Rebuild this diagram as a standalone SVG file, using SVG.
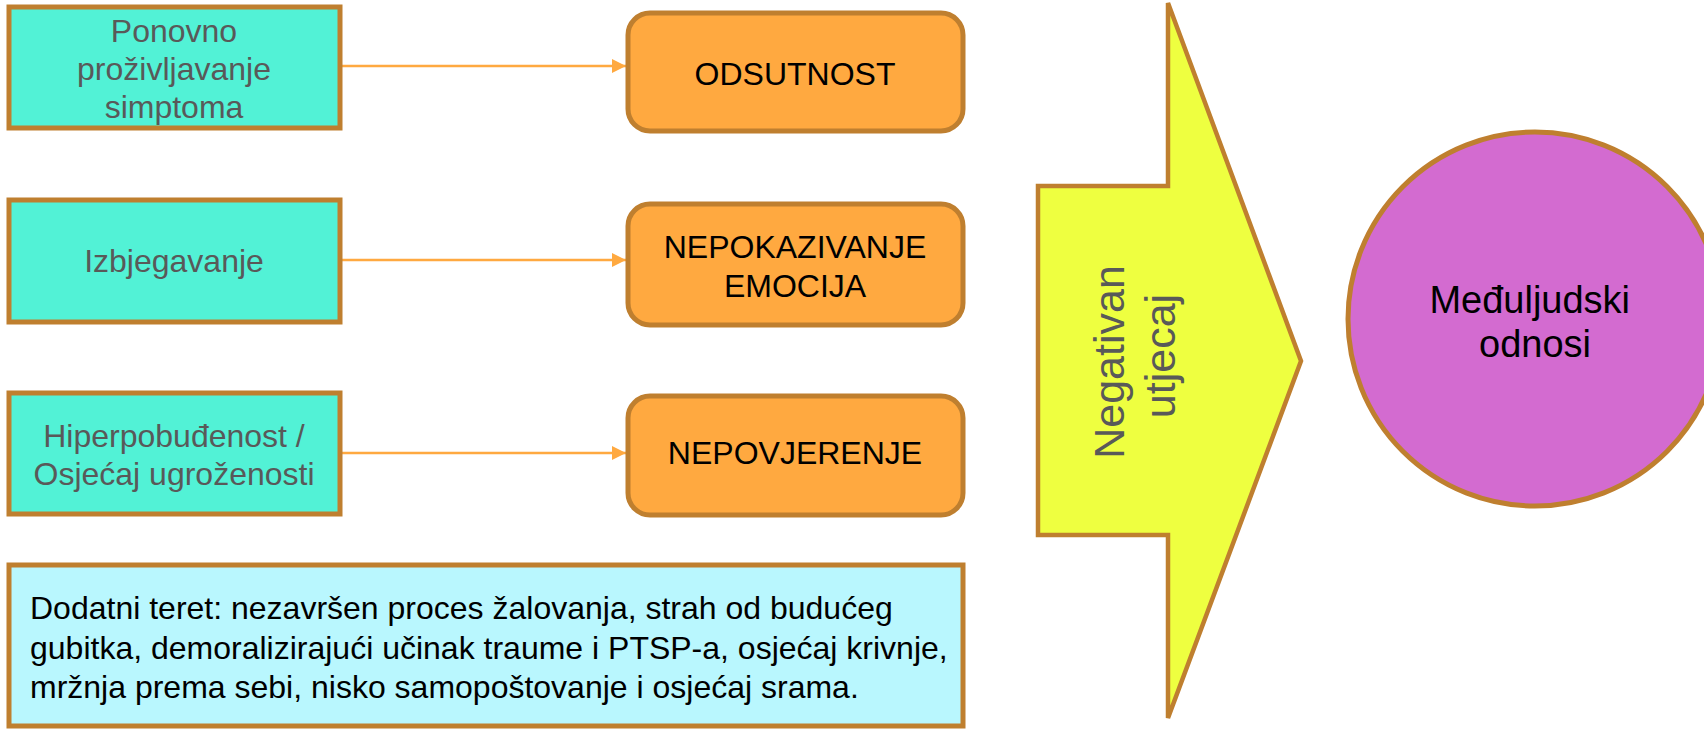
<svg xmlns="http://www.w3.org/2000/svg" width="1704" height="729" viewBox="0 0 1704 729">
<style>
.teal{fill:#52F2D6;stroke:#BF7F2F;stroke-width:5}
.orange{fill:#FFA940;stroke:#BF7F2F;stroke-width:5}
.tt{font-family:"Liberation Sans",Arial,sans-serif;font-size:32px;fill:#595959;text-anchor:middle}
.ot{font-family:"Liberation Sans",Arial,sans-serif;font-size:32px;fill:#000;text-anchor:middle}
.conn{stroke:#FFA940;stroke-width:2.5;fill:none}
</style>
<defs>
<marker id="ah" markerUnits="userSpaceOnUse" markerWidth="16" markerHeight="16" refX="14" refY="7" orient="auto">
<path d="M0,0 L14,7 L0,14 Z" fill="#FFA940"/>
</marker>
</defs>
<rect width="1704" height="729" fill="#fff"/>
<g id="connectors">
<line class="conn" x1="341" y1="66" x2="626" y2="66" marker-end="url(#ah)"/>
<line class="conn" x1="341" y1="260" x2="626" y2="260" marker-end="url(#ah)"/>
<line class="conn" x1="341" y1="453" x2="626" y2="453" marker-end="url(#ah)"/>
</g>
<g id="n1">
<rect class="teal" x="9" y="7" width="331" height="121"/>
<text class="tt" x="174" y="42">Ponovno</text>
<text class="tt" x="174" y="80">proživljavanje</text>
<text class="tt" x="174" y="118">simptoma</text>
</g>
<g id="n2">
<rect class="teal" x="9" y="200" width="331" height="122"/>
<text class="tt" x="174" y="272">Izbjegavanje</text>
</g>
<g id="n3">
<rect class="teal" x="9" y="393" width="331" height="121"/>
<text class="tt" x="174" y="447">Hiperpobuđenost /</text>
<text class="tt" x="174" y="485">Osjećaj ugroženosti</text>
</g>
<g id="o1">
<rect class="orange" x="628" y="13" width="335" height="118" rx="22"/>
<text class="ot" x="795" y="85">ODSUTNOST</text>
</g>
<g id="o2">
<rect class="orange" x="628" y="204" width="335" height="121" rx="22"/>
<text class="ot" x="795" y="258">NEPOKAZIVANJE</text>
<text class="ot" x="795" y="297">EMOCIJA</text>
</g>
<g id="o3">
<rect class="orange" x="628" y="396" width="335" height="119" rx="22"/>
<text class="ot" x="795" y="464">NEPOVJERENJE</text>
</g>
<g id="burden">
<rect x="9" y="565" width="954" height="161" fill="#B9F7FE" stroke="#BF7F2F" stroke-width="5"/>
<text font-family="Liberation Sans,Arial,sans-serif" font-size="32" fill="#000">
<tspan x="30" y="619">Dodatni teret: nezavršen proces žalovanja, strah od budućeg</tspan>
<tspan x="30" y="659">gubitka, demoralizirajući učinak traume i PTSP-a, osjećaj krivnje,</tspan>
<tspan x="30" y="698">mržnja prema sebi, nisko samopoštovanje i osjećaj srama.</tspan>
</text>
</g>
<g id="impact">
<polygon points="1168,3 1301,361 1168,718 1168,535 1038,535 1038,186 1168,186" fill="#EEFF40" stroke="#BF7F2F" stroke-width="4.5" stroke-linejoin="miter"/>
<g transform="translate(1145,356) rotate(-90)">
<text font-family="Liberation Sans,Arial,sans-serif" font-size="43" fill="#595959" text-anchor="middle">
<tspan x="0" y="-21">Negativan</tspan>
<tspan x="0" y="30">utjecaj</tspan>
</text>
</g>
</g>
<g id="relations">
<circle cx="1535" cy="319" r="187" fill="#D36BD0" stroke="#BF7F2F" stroke-width="5"/>
<text font-family="Liberation Sans,Arial,sans-serif" font-size="38" fill="#000" text-anchor="middle">
<tspan x="1535" y="313">Međuljudski</tspan>
<tspan x="1535" y="357">odnosi</tspan>
</text>
</g>
</svg>
